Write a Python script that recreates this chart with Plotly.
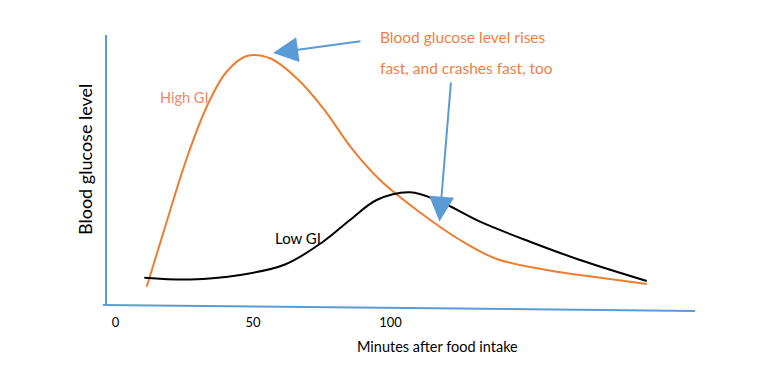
import plotly.graph_objects as go

# Data (minutes after food intake, relative blood glucose level)
high_gi_minutes = [11.35, 18.36, 25.89, 33.16, 40.18, 47.71, 56.18, 65.89, 75.45, 85.89,
                   96.18, 109.53, 125.27, 138.62, 156.8, 174.98, 193.16]
high_gi_level = [6.78, 30.0, 54.33, 73.44, 86.11, 92.22, 91.37, 83.96, 72.96, 58.04,
                 46.30, 35.19, 24.07, 17.04, 12.96, 10.26, 7.78]
low_gi_minutes = [10.47, 27.09, 45.27, 61.64, 75.45, 85.27, 94.98, 107.09, 118.0, 132.55,
                  150.73, 168.91, 193.16]
low_gi_level = [10.11, 9.44, 11.11, 15.0, 23.44, 31.48, 38.89, 41.74, 38.33, 30.85,
                23.44, 16.67, 8.89]
tick_vals = [0, 50, 100]
tick_text = ["0", "50", "100"]

ORANGE = "#ED7D31"
BLUE = "#5B9BD5"
FONT = "Lato"

fig = go.Figure()
fig.add_trace(go.Scatter(x=high_gi_minutes, y=high_gi_level, mode="lines",
                         line=dict(color=ORANGE, width=2, shape="spline", smoothing=1.0),
                         name="High GI", showlegend=False, hoverinfo="skip"))
fig.add_trace(go.Scatter(x=low_gi_minutes, y=low_gi_level, mode="lines",
                         line=dict(color="black", width=2, shape="spline", smoothing=1.0),
                         name="Low GI", showlegend=False, hoverinfo="skip"))

fig.update_layout(
    width=761, height=367,
    margin=dict(l=99, r=74, t=27, b=70, pad=0),
    paper_bgcolor="white", plot_bgcolor="white",
    font=dict(family=FONT, color="black"),
    xaxis=dict(range=[-3.09, 210.7], showgrid=False, zeroline=False, showline=False,
               tickvals=tick_vals, ticktext=tick_text, ticks="", ticklabelstandoff=8,
               tickfont=dict(size=13, color="black", family=FONT), fixedrange=True),
    yaxis=dict(range=[0, 100], showgrid=False, zeroline=False, showline=True,
               linecolor=BLUE, linewidth=2, showticklabels=False, ticks="",
               fixedrange=True),
)

# tilted x-axis line
fig.add_shape(type="line", xref="paper", yref="paper", x0=-0.007, y0=0, x1=1.0, y1=-0.022,
              line=dict(color=BLUE, width=2))

# axis titles
fig.add_annotation(text="Minutes after food intake", xref="paper", yref="paper",
                   x=(437.5 - 107) / 588, y=-(357 - 305) / 270, showarrow=False,
                   font=dict(size=14.5, color="black", family=FONT))
fig.add_annotation(text="Blood glucose level", xref="paper", yref="paper",
                   x=-(107 - 72) / 588, y=(305 - 160) / 270, showarrow=False, textangle=-90,
                   font=dict(size=18, color="black", family=FONT))

# labels
fig.add_annotation(text="High GI", x=15.5, y=76.7, xanchor="left", showarrow=False,
                   font=dict(size=14.5, color="#F0876A", family=FONT))
fig.add_annotation(text="Low GI", x=57.3, y=24.8, xanchor="left", showarrow=False,
                   font=dict(size=15, color="black", family=FONT))
fig.add_annotation(text="Blood glucose level rises", x=95.5, y=99.3, xanchor="left",
                   showarrow=False, font=dict(size=15.5, color="#EE8046", family=FONT))
fig.add_annotation(text="fast, and crashes fast, too", x=95.5, y=87.8, xanchor="left",
                   showarrow=False, font=dict(size=15.5, color="#EE8046", family=FONT))

# arrows
fig.add_annotation(x=57.3, y=93.3, ax=89.6, ay=97.8, axref="x", ayref="y", text="",
                   showarrow=True, arrowhead=2, arrowsize=2.5, arrowwidth=2, arrowcolor=BLUE,
                   standoff=0)
fig.add_annotation(x=117.8, y=30.9, ax=122.0, ay=83.0, axref="x", ayref="y", text="",
                   showarrow=True, arrowhead=2, arrowsize=2.5, arrowwidth=2, arrowcolor=BLUE,
                   standoff=0)

fig.write_html("out.html")
